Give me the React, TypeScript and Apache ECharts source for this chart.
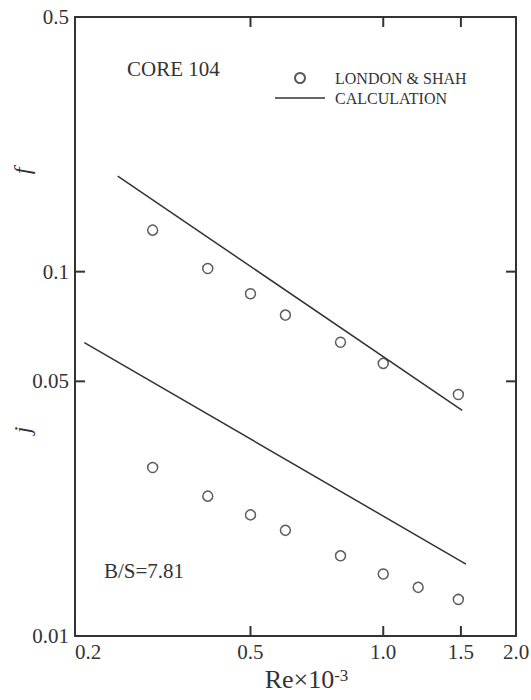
import React, { useEffect, useRef } from 'react';
import * as echarts from 'echarts';

// Tick values
const xTickLabels = [0.2, 0.5, 1.0, 1.5, 2.0];
const xTickMarks = [0.5, 1.0, 1.5];
const yTickLabels = [0.01, 0.05, 0.1, 0.5];
const yTickMarks = [0.05, 0.1];

// London & Shah experimental data (Re x 10^-3)
const reF = [0.3, 0.4, 0.5, 0.6, 0.8, 1.0, 1.48];
const fExp = [0.13, 0.102, 0.087, 0.076, 0.064, 0.056, 0.046];
const reJ = [0.3, 0.4, 0.5, 0.6, 0.8, 1.0, 1.2, 1.48];
const jExp = [0.029, 0.0242, 0.0215, 0.0195, 0.0166, 0.0148, 0.0136, 0.0126];

// Calculation lines
const reFCalc = [0.25, 1.51];
const fCalc = [0.183, 0.0416];
const reJCalc = [0.21, 1.54];
const jCalc = [0.0639, 0.01575];

export default function App() {
  const ref = useRef<HTMLDivElement>(null);
  useEffect(() => {
    const chart = echarts.init(ref.current!, null, { renderer: 'svg' });
    const font = '"Liberation Serif", "Times New Roman", serif';
    const ink = '#333';
    const pair = (xs: number[], ys: number[]) => xs.map((x, i) => [x, ys[i]]);

    const xBase = (pos: any, labels: boolean) => ({
      type: 'log',
      logBase: 10,
      min: 0.2,
      max: 2.0,
      position: pos,
      axisLine: { show: true, onZero: false, lineStyle: { color: ink, width: 2 } },
      axisTick: { show: false },
      axisLabel: {
        show: labels,
        customValues: xTickLabels,
        formatter: (v: number) => v.toFixed(1),
        fontSize: 21,
        fontFamily: font,
        color: ink,
        margin: 5,
        alignMinLabel: 'left',
      },
      splitLine: { show: false },
    });
    const yBase = (pos: any, labels: boolean) => ({
      type: 'log',
      logBase: 10,
      min: 0.01,
      max: 0.5,
      position: pos,
      axisLine: { show: true, onZero: false, lineStyle: { color: ink, width: 2 } },
      axisTick: { show: false },
      axisLabel: {
        show: labels,
        customValues: yTickLabels,
        formatter: (v: number) => String(v),
        fontSize: 21,
        fontFamily: font,
        color: ink,
        margin: 6,
      },
      splitLine: { show: false },
    });

    // Inward tick marks placed through the axes' own scales
    const tickSeries = (data: number[][], vertical: boolean) => ({
      type: 'custom',
      xAxisIndex: 0,
      yAxisIndex: 0,
      silent: true,
      clip: false,
      renderItem: (params: any, api: any) => {
        const cs = params.coordSys;
        const p = api.coord([api.value(0), api.value(1)]);
        const style = { stroke: ink, lineWidth: 2 };
        const L = 10;
        if (vertical) {
          const x = p[0];
          return {
            type: 'group',
            children: [
              { type: 'line', shape: { x1: x, y1: cs.y + cs.height, x2: x, y2: cs.y + cs.height - L }, style },
              { type: 'line', shape: { x1: x, y1: cs.y, x2: x, y2: cs.y + L }, style },
            ],
          };
        }
        const y = p[1];
        return {
          type: 'group',
          children: [
            { type: 'line', shape: { x1: cs.x, y1: y, x2: cs.x + L, y2: y }, style },
            { type: 'line', shape: { x1: cs.x + cs.width, y1: y, x2: cs.x + cs.width - L, y2: y }, style },
          ],
        };
      },
      data,
    });

    chart.setOption({
      animation: false,
      backgroundColor: '#fff',
      grid: { left: 75, right: 15, top: 17, bottom: 64, outerBoundsMode: 'none' },
      xAxis: [
        {
          ...xBase('bottom', true),
          name: '{a|Re×10}{s|-3}',
          nameLocation: 'middle',
          nameGap: 30,
          nameTextStyle: {
            padding: [0, 0, 0, 22],
            rich: {
              a: { fontSize: 26, fontFamily: font, color: ink, lineHeight: 26 },
              s: { fontSize: 17, fontFamily: font, color: ink, lineHeight: 26, verticalAlign: 'top' },
            },
          },
        },
        xBase('top', false),
      ],
      yAxis: [yBase('left', true), yBase('right', false)],
      legend: {
        show: true,
        selectedMode: false,
        orient: 'vertical',
        left: 275,
        top: 70,
        padding: 0,
        itemWidth: 50,
        itemHeight: 10,
        itemGap: 4,
        textStyle: { fontSize: 16, fontFamily: font, color: ink, padding: [0, 0, 0, 5] },
        data: [
          { name: 'LONDON & SHAH' },
          { name: 'CALCULATION', icon: 'path://M0,0 L50,0 L50,1.5 L0,1.5 Z' },
        ],
      },
      graphic: [
        { type: 'text', left: 127, top: 58, style: { text: 'CORE 104', font: `21px ${font}`, fill: ink } },
        { type: 'text', left: 104, top: 560, style: { text: 'B/S=7.81', font: `21px ${font}`, fill: ink } },
        {
          type: 'text', x: 22, y: 171, rotation: Math.PI / 2,
          style: { text: 'f', font: `italic 24px ${font}`, fill: ink, align: 'center', verticalAlign: 'middle' },
        },
        {
          type: 'text', x: 22, y: 430, rotation: Math.PI / 2,
          style: { text: 'j', font: `italic 24px ${font}`, fill: ink, align: 'center', verticalAlign: 'middle' },
        },
      ],
      series: [
        {
          name: 'LONDON & SHAH', type: 'scatter', xAxisIndex: 0, yAxisIndex: 0,
          symbol: 'circle', symbolSize: 10,
          itemStyle: { color: '#fff', borderColor: ink, borderWidth: 1.5 },
          data: pair(reF, fExp),
        },
        {
          name: 'LONDON & SHAH', type: 'scatter', xAxisIndex: 0, yAxisIndex: 0,
          symbol: 'circle', symbolSize: 10,
          itemStyle: { color: '#fff', borderColor: ink, borderWidth: 1.5 },
          data: pair(reJ, jExp),
        },
        {
          name: 'CALCULATION', type: 'line', xAxisIndex: 0, yAxisIndex: 0,
          symbol: 'none', lineStyle: { color: ink, width: 1.5 }, itemStyle: { color: ink },
          data: pair(reFCalc, fCalc),
        },
        {
          name: 'CALCULATION', type: 'line', xAxisIndex: 0, yAxisIndex: 0,
          symbol: 'none', lineStyle: { color: ink, width: 1.5 }, itemStyle: { color: ink },
          data: pair(reJCalc, jCalc),
        },
        tickSeries(xTickMarks.map((v) => [v, 0.01]), true),
        tickSeries(yTickMarks.map((v) => [0.2, v]), false),
      ],
    });
    return () => chart.dispose();
  }, []);
  return (
    <div
      ref={ref}
      style={{ position: 'fixed', left: 0, top: 0, width: 531, height: 700, background: '#fff' }}
    />
  );
}
